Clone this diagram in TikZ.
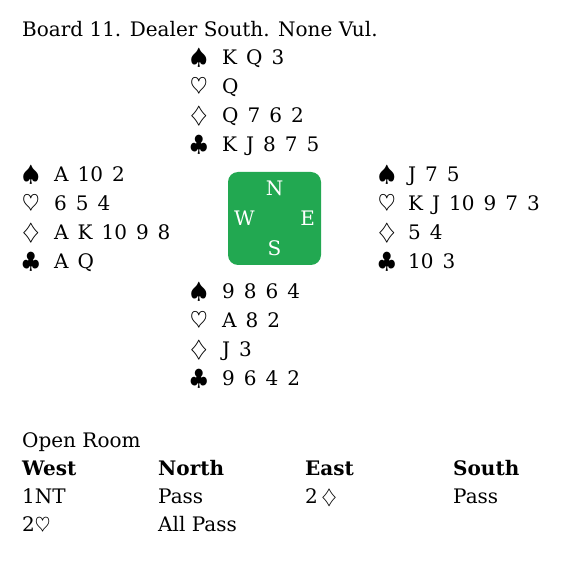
\documentclass[tikz,border=0pt]{standalone}
\usepackage{fix-cm}
\usepackage{fontspec}
\setmainfont{DejaVu Serif}
\usepackage{xcolor}
\usetikzlibrary{positioning}
\definecolor{tablegreen}{HTML}{22A851}
\newcommand\handfont{\fontsize{20}{29}\selectfont\spaceskip 9pt\relax}
\newcommand\suit[2][32pt]{\makebox[#1][l]{\fontsize{22.5}{29}\selectfont$#2$}}

\begin{document}
\begin{tikzpicture}[x=1pt, y=-1pt,
  txt/.style={anchor=base west, inner sep=0pt, font=\fontsize{20}{29}\selectfont},
  hand/.style={anchor=base west, inner sep=0pt, font=\handfont},
  bids/.style={anchor=base west, inner sep=0pt, font=\fontsize{20}{28.5}\selectfont},
  seat/.style={inner sep=0pt, text=white, font=\fontsize{20}{24}\selectfont},
]
\useasboundingbox (0,0) rectangle (584,569);
\node[txt] (title) at (22,37) {Board 11. Dealer South. None Vul.};
% the four hands
\node[hand] (north) at (190,65) {\begin{tabular}[t]{@{}l@{}l@{}}
  \suit{\spadesuit} & K Q 3\\
  \suit{\heartsuit} & Q\\
  \suit{\diamondsuit} & Q 7 6 2\\
  \suit{\clubsuit} & K J 8 7 5
\end{tabular}};
\node[hand] (west) at (22,182) {\begin{tabular}[t]{@{}l@{}l@{}}
  \suit{\spadesuit} & A 10 2\\
  \suit{\heartsuit} & 6 5 4\\
  \suit{\diamondsuit} & A K 10 9 8\\
  \suit{\clubsuit} & A Q
\end{tabular}};
\node[hand] (east) at (378,182) {\begin{tabular}[t]{@{}l@{}l@{}}
  \suit[30pt]{\spadesuit} & J 7 5\\
  \suit[30pt]{\heartsuit} & K J 10 9 7 3\\
  \suit[30pt]{\diamondsuit} & 5 4\\
  \suit[30pt]{\clubsuit} & 10 3
\end{tabular}};
\node[hand] (south) at (190,299) {\begin{tabular}[t]{@{}l@{}l@{}}
  \suit{\spadesuit} & 9 8 6 4\\
  \suit{\heartsuit} & A 8 2\\
  \suit{\diamondsuit} & J 3\\
  \suit{\clubsuit} & 9 6 4 2
\end{tabular}};
% compass
\node[fill=tablegreen, rounded corners=10pt, minimum size=93pt, inner sep=0pt] (table) at (274.5,218.5) {};
\node[seat, below=9pt of table.north] (n) {N};
\node[seat, above=9pt of table.south] (s) {S};
\node[seat, right=6pt of table.west] (w) {W};
\node[seat, left=6pt of table.east] (e) {E};
% auction
\node[txt] (room) at (22,447) {Open Room};
\node[bids] (auction) at (22,475) {\begin{tabular}[t]{@{}p{136pt}@{}p{147pt}@{}p{148pt}@{}l@{}}
  \textbf{West} & \textbf{North} & \textbf{East} & \textbf{South}\\
  1NT & Pass & 2\,$\diamondsuit$ & Pass\\
  2$\heartsuit$ & All Pass & &
\end{tabular}};
\end{tikzpicture}
\end{document}
